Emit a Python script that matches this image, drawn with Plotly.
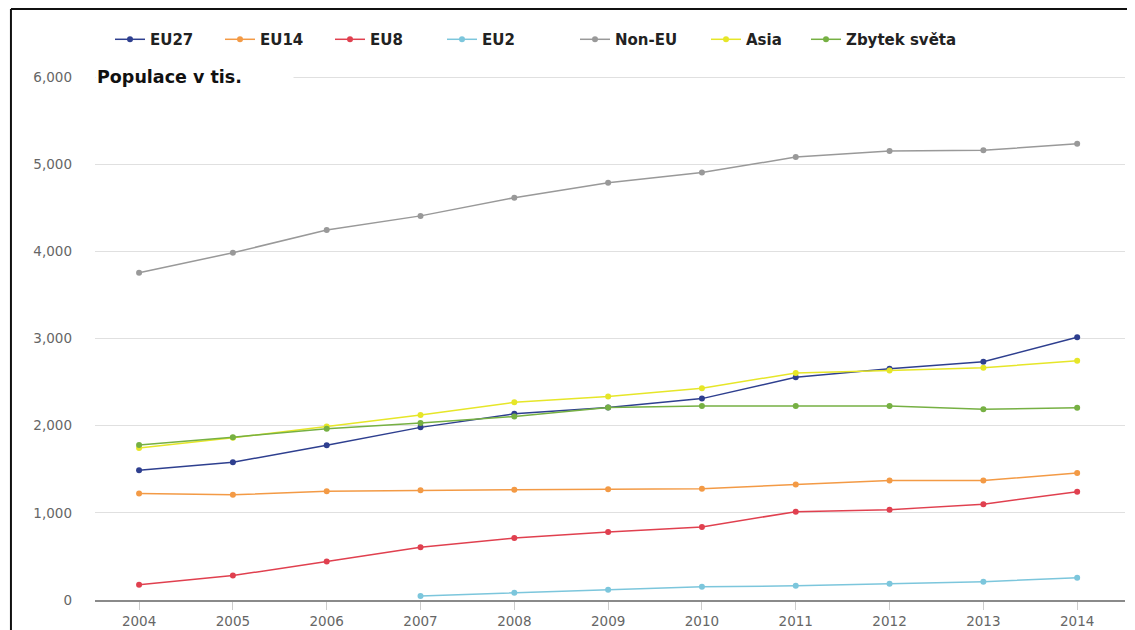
import plotly.graph_objects as go

years = [2004, 2005, 2006, 2007, 2008, 2009, 2010, 2011, 2012, 2013, 2014]
eu27 = [1488, 1581, 1775, 1981, 2136, 2210, 2311, 2555, 2653, 2734, 3014]
eu14 = [1223, 1208, 1247, 1258, 1266, 1270, 1278, 1325, 1371, 1371, 1456]
eu8 = [175, 280, 443, 606, 711, 781, 839, 1014, 1037, 1099, 1243]
eu2 = [None, None, None, 47, 82, 117, 151, 163, 186, 210, 256]
non_eu = [3755, 3985, 4245, 4408, 4617, 4789, 4905, 5083, 5153, 5161, 5235]
asia = [1744, 1861, 1992, 2124, 2268, 2334, 2431, 2606, 2633, 2664, 2746]
zbytek = [1779, 1868, 1966, 2031, 2105, 2210, 2225, 2225, 2225, 2190, 2206]

names = ["EU27", "EU14", "EU8", "EU2", "Non-EU", "Asia", "Zbytek světa"]
values = [eu27, eu14, eu8, eu2, non_eu, asia, zbytek]
colors = ["#2e3f8f", "#f39a45", "#e0404f", "#7cc6dc", "#999999", "#e6e628", "#76b043"]

# legend text start positions (page px) for each entry
legend_text_px = [152, 262, 372, 484, 617, 748, 848]

PLOT_L, PLOT_W = 95, 1030
PLOT_B, PLOT_H = 592, 522

fig = go.Figure()
layout_legends = {}
for i, (name, vals, col) in enumerate(zip(names, values, colors)):
    key = "legend" if i == 0 else f"legend{i + 1}"
    fig.add_trace(go.Scatter(
        x=years, y=vals, name=name, mode="lines+markers",
        line=dict(color=col, width=1.5),
        marker=dict(color=col, size=6),
        legend=key,
    ))
    layout_legends[key] = dict(
        orientation="h",
        x=(legend_text_px[i] - 42 - PLOT_L) / PLOT_W,
        y=(PLOT_B - 40) / PLOT_H,
        xanchor="left", yanchor="middle",
        font=dict(family="DejaVu Sans", size=15, color="#222222", weight="bold"),
        itemwidth=30, bgcolor="rgba(0,0,0,0)",
    )

fig.update_layout(
    width=1127, height=622,
    margin=dict(l=87, r=10, t=62, b=30, autoexpand=False),
    paper_bgcolor="white", plot_bgcolor="white",
    font=dict(family="DejaVu Sans", size=13, color="#666666"),
    showlegend=True,
    xaxis=dict(
        range=[2003.53, 2014.51], tickmode="array", tickvals=years,
        showgrid=False, zeroline=False,
        showline=True, linecolor="#8a8a8a", linewidth=2,
        ticks="outside", ticklen=8, tickcolor="#cccccc", tickwidth=1,
        tickfont=dict(family="DejaVu Sans", size=13.5, color="#666666"),
    ),
    yaxis=dict(
        range=[0, 6082], tickvals=[0, 1000, 2000, 3000, 4000, 5000, 6000],
        tickformat=",", showgrid=True, gridcolor="#e0e0e0", gridwidth=1,
        zeroline=False, showline=False, ticklabelstandoff=22,
        tickfont=dict(family="DejaVu Sans", size=13.5, color="#666666"),
    ),
    annotations=[dict(
        text="<b>Populace v tis.</b>", xref="paper", yref="y",
        x=0.0, y=6000, xanchor="left", yanchor="middle", showarrow=False,
        font=dict(family="DejaVu Sans", size=17.5, color="#111111"),
        bgcolor="white", width=195, align="left",
    )],
    shapes=[
        dict(type="line", xref="paper", yref="paper", x0=-0.0816, x1=1.2,
             y0=1.115, y1=1.115, line=dict(color="#111111", width=2)),
        dict(type="line", xref="paper", yref="paper", x0=-0.0816, x1=-0.0816,
             y0=-0.2, y1=1.115, line=dict(color="#111111", width=2)),
    ],
    **layout_legends,
)

fig.write_html("out.html")
